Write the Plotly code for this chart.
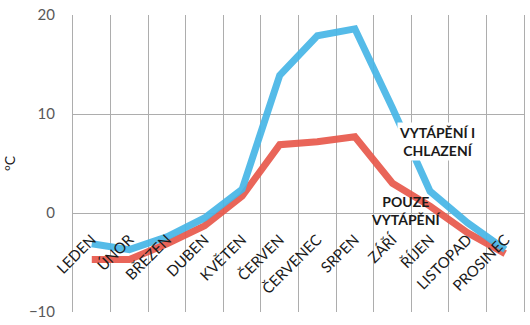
import plotly.graph_objects as go

months = ["LEDEN", "ÚNOR", "BŘEZEN", "DUBEN", "KVĚTEN", "ČERVEN",
          "ČERVENEC", "SRPEN", "ZÁŘÍ", "ŘÍJEN", "LISTOPAD", "PROSINEC"]
heating_cooling = [-3.1, -3.7, -2.4, -0.5, 2.4, 13.9, 17.9, 18.6, 10.6, 2.2, -1.0, -3.7]
heating_only = [-4.7, -4.7, -3.1, -1.3, 1.7, 6.9, 7.2, 7.7, 3.0, 0.7, -2.0, -4.1]
y_ticks = [-10, 0, 10, 20]

BLUE = "#47B6E7"
RED = "#E8584B"
GRID = "#ADADAD"
FONT = "Lato"

fig = go.Figure()
fig.add_trace(go.Scatter(x=months, y=heating_only, mode="lines",
                         line=dict(color=RED, width=7), opacity=0.92,
                         showlegend=False, hoverinfo="skip"))
fig.add_trace(go.Scatter(x=months, y=heating_cooling, mode="lines",
                         line=dict(color=BLUE, width=7), opacity=0.92,
                         showlegend=False, hoverinfo="skip"))

fig.add_annotation(x="ZÁŘÍ", y=8.0, xref="x", yref="y", xshift=45, yshift=-8,
                   text="<b>VYTÁPĚNÍ I<br>CHLAZENÍ</b>", showarrow=False,
                   bgcolor="white", font=dict(family=FONT, size=14, color="#1a1a1a"),
                   align="center")
fig.add_annotation(x="ŘÍJEN", y=0.7, xref="x", yref="y", xshift=-24, yshift=-4,
                   text="<b>POUZE<br>VYTÁPĚNÍ</b>", showarrow=False,
                   font=dict(family=FONT, size=14, color="#1a1a1a"),
                   align="center")

fig.update_layout(
    width=530, height=325,
    margin=dict(l=73, r=5, t=13, b=13),
    paper_bgcolor="white", plot_bgcolor="white",
    xaxis=dict(type="category", categoryorder="array", categoryarray=months,
               range=[-0.5, 11.5], tickson="boundaries", showgrid=True,
               gridcolor=GRID, gridwidth=1, ticks="", showline=False,
               anchor="free", position=1/3, tickangle=-45,
               tickfont=dict(family=FONT, size=15, color="#1a1a1a"),
               ticklabelstandoff=14),
    yaxis=dict(range=[-10, 20], tickvals=y_ticks, showgrid=True,
               gridcolor=GRID, gridwidth=1, zeroline=False,
               showline=True, linecolor=GRID, mirror=True,
               tickfont=dict(family=FONT, size=15, color="#595959"),
               ticklabelstandoff=14,
               title=dict(text="°C", font=dict(family=FONT, size=14, color="#1a1a1a"),
                          standoff=9)),
)

fig.write_html("out.html")
